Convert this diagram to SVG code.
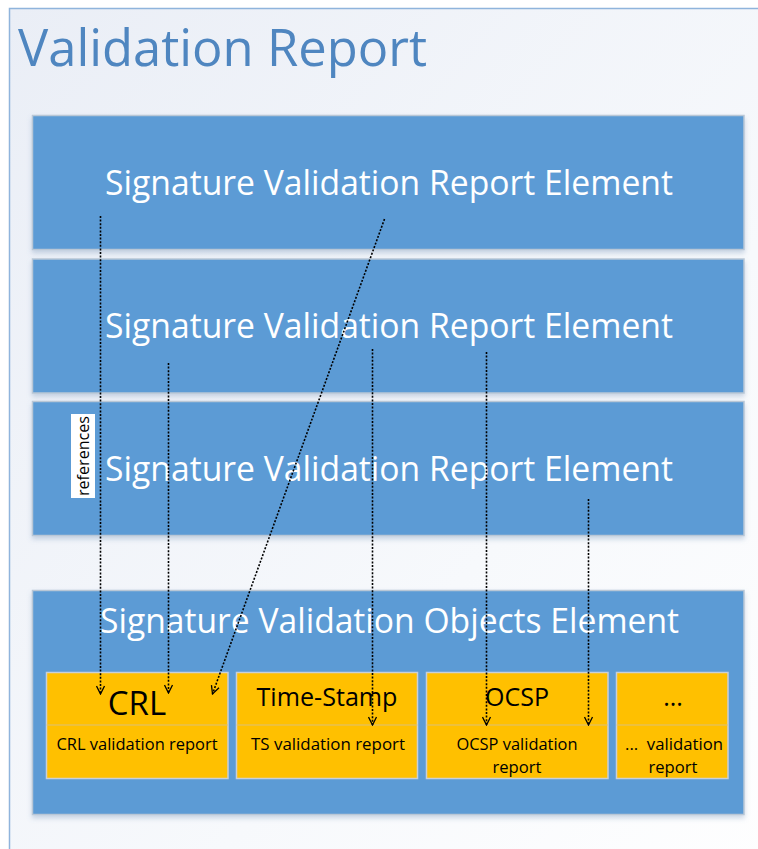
<svg xmlns="http://www.w3.org/2000/svg" width="758" height="849" viewBox="0 0 758 849">
<defs>
<linearGradient id="bg" x1="0" y1="0" x2="1" y2="1">
<stop offset="0" stop-color="#eaeef6"/>
<stop offset="0.6" stop-color="#f7f9fc"/>
<stop offset="1" stop-color="#ffffff"/>
</linearGradient>
<filter id="sh" x="-5%" y="-5%" width="110%" height="120%">
<feDropShadow dx="0" dy="3" stdDeviation="2.5" flood-color="#6f8fb5" flood-opacity="0.35"/>
</filter>
<marker id="chev" viewBox="0 0 10 10" refX="9" refY="5" markerWidth="10" markerHeight="10" markerUnits="userSpaceOnUse" orient="auto">
<path d="M1,1 L9,5 L1,9" fill="none" stroke="#000" stroke-width="1.3"/>
</marker>
<style>
.blue{fill:#5b9bd5;stroke:#b9c7d6;stroke-width:1.5}
.yel{fill:#ffc000;stroke:#c9d0d8;stroke-width:1.5}
.big{font-family:"Open Sans","Noto Sans",sans-serif;font-size:35px;fill:#ffffff}
.hd{font-family:"Open Sans","Noto Sans",sans-serif;font-size:25px;fill:#000}
.sm{font-family:"Open Sans","Noto Sans",sans-serif;font-size:16px;fill:#000;text-anchor:middle}
.con{fill:none;stroke:#000;stroke-width:1.6;stroke-dasharray:2,1.6;marker-end:url(#chev)}
</style>
</defs>
<rect x="0" y="0" width="758" height="849" fill="#ffffff"/>
<rect x="9.5" y="8.5" width="800" height="900" fill="url(#bg)" stroke="#8fb4dc" stroke-width="1.5"/>
<g id="title">
<text x="18" y="66" font-family="'Open Sans','Noto Sans',sans-serif" font-size="52" fill="#4f86c0" textLength="409" lengthAdjust="spacingAndGlyphs">Validation Report</text>
</g>
<g id="sig1">
<rect class="blue" x="32.5" y="115.5" width="711.5" height="134" filter="url(#sh)"/>
<text class="big" x="105" y="195" textLength="568" lengthAdjust="spacingAndGlyphs">Signature Validation Report Element</text>
</g>
<g id="sig2">
<rect class="blue" x="32.5" y="259" width="711.5" height="134" filter="url(#sh)"/>
<text class="big" x="105" y="338" textLength="568" lengthAdjust="spacingAndGlyphs">Signature Validation Report Element</text>
</g>
<g id="sig3">
<rect class="blue" x="32.5" y="401.5" width="711.5" height="134" filter="url(#sh)"/>
<text class="big" x="105" y="481" textLength="568" lengthAdjust="spacingAndGlyphs">Signature Validation Report Element</text>
</g>
<g id="objects">
<rect class="blue" x="32.5" y="590.5" width="711.5" height="224" filter="url(#sh)"/>
<text class="big" x="100" y="633" textLength="579" lengthAdjust="spacingAndGlyphs">Signature Validation Objects Element</text>
</g>
<g id="crl">
<rect class="yel" x="46.5" y="672.5" width="181.5" height="106"/>
<line x1="46.5" y1="725" x2="228" y2="725" stroke="#d9c07a" stroke-width="1"/>
<text x="137" y="715" font-family="'Open Sans','Noto Sans',sans-serif" font-size="33" fill="#000" text-anchor="middle">CRL</text>
<text class="sm" x="137" y="750" textLength="161" lengthAdjust="spacingAndGlyphs">CRL validation report</text>
</g>
<g id="ts">
<rect class="yel" x="236.5" y="672.5" width="181" height="106"/>
<line x1="236.5" y1="725" x2="417.5" y2="725" stroke="#d9c07a" stroke-width="1"/>
<text class="hd" x="327" y="706" text-anchor="middle" textLength="141" lengthAdjust="spacingAndGlyphs">Time-Stamp</text>
<text class="sm" x="328" y="750" textLength="154" lengthAdjust="spacingAndGlyphs">TS validation report</text>
</g>
<g id="ocsp">
<rect class="yel" x="426.5" y="672.5" width="181.5" height="106"/>
<line x1="426.5" y1="725" x2="608" y2="725" stroke="#d9c07a" stroke-width="1"/>
<text class="hd" x="517" y="706" text-anchor="middle">OCSP</text>
<text class="sm" x="517" y="750" textLength="121" lengthAdjust="spacingAndGlyphs">OCSP validation</text>
<text class="sm" x="517" y="773" textLength="49" lengthAdjust="spacingAndGlyphs">report</text>
</g>
<g id="other">
<rect class="yel" x="616.5" y="672.5" width="111.5" height="106"/>
<line x1="616.5" y1="725" x2="728" y2="725" stroke="#d9c07a" stroke-width="1"/>
<text class="hd" x="673" y="706" text-anchor="middle">...</text>
<text class="sm" x="674" y="750" textLength="98" lengthAdjust="spacingAndGlyphs" xml:space="preserve">...  validation</text>
<text class="sm" x="673" y="773" textLength="49" lengthAdjust="spacingAndGlyphs">report</text>
</g>
<g id="references">
<rect x="71" y="414" width="24" height="84" fill="#ffffff"/>
<text x="0" y="0" transform="translate(89,456) rotate(-90)" font-family="'Open Sans','Noto Sans',sans-serif" font-size="16" fill="#000" text-anchor="middle" textLength="80" lengthAdjust="spacingAndGlyphs">references</text>
</g>
<g id="connectors">
<path class="con" d="M100.5,216 L100.5,694"/>
<path class="con" d="M168.5,363 L168.5,693"/>
<path class="con" d="M384.5,219 L212.5,694"/>
<path class="con" d="M372.5,349 L372.5,725"/>
<path class="con" d="M486.5,352 L486.5,725"/>
<path class="con" d="M588.5,499 L588.5,725"/>
</g>
</svg>
